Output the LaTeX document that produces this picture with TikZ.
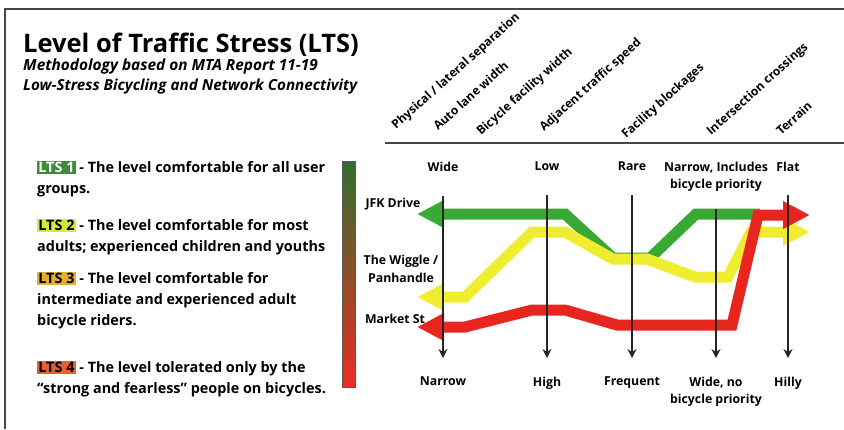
\documentclass[tikz,border=0pt]{standalone}
\usepackage{fontspec}
\setmainfont{Open Sans}
\usetikzlibrary{arrows.meta}

\definecolor{framegray}{RGB}{70,70,70}
\definecolor{jfkgreen}{RGB}{58,168,52}
\definecolor{wiggleyellow}{RGB}{240,236,48}
\definecolor{marketred}{RGB}{232,38,31}
\definecolor{bartop}{RGB}{48,112,46}
\definecolor{barmid}{RGB}{236,228,40}
\definecolor{barbottom}{RGB}{236,44,34}
\definecolor{ltsone}{RGB}{62,138,58}
\definecolor{ltstwo}{RGB}{214,232,60}
\definecolor{ltsthree}{RGB}{226,176,46}
\definecolor{ltsfour}{RGB}{226,96,52}

\newcommand{\ltstag}[3]{{\setlength{\fboxsep}{1.2pt}\colorbox{#1}{\textcolor{#2}{#3}}}}

\begin{document}
\begin{tikzpicture}[x=1pt,y=-1pt,
    every node/.style={inner sep=0pt},
    head/.style={anchor=base west, rotate=42, font=\bfseries\fontsize{12}{14}\selectfont},
    level/.style={anchor=north, align=center, font=\bfseries\fontsize{12.3}{17}\selectfont},
    street/.style={align=center, font=\bfseries\fontsize{12.3}{18}\selectfont},
    legend/.style={anchor=north west, align=left, font=\bfseries\fontsize{14.4}{21}\selectfont},
    band/.style={line width=11pt},
    axis/.style={line width=1.5pt, black!85, -{Stealth[length=9pt,width=9pt]},
      shorten <=24pt, shorten >=19pt}]
  \useasboundingbox (0,0) rectangle (844,429);
  \draw[framegray, line width=1.5pt] (844,9) -- (5,9) -- (5,429);
  \draw[framegray, line width=2pt] (385,143) -- (844,143);

  % title block
  \node[anchor=base west, font=\bfseries\fontsize{25.5}{30}\selectfont] (title) at (23,52)
    {Level of Traffic Stress (LTS)};
  \node[anchor=base west, font=\bfseries\itshape\fontsize{15.4}{18}\selectfont] (subone) at (23,70)
    {Methodology based on MTA Report 11-19};
  \node[anchor=base west, font=\bfseries\itshape\fontsize{15.2}{18}\selectfont] (subtwo) at (23,90)
    {Low-Stress Bicycling and Network Connectivity};

  % factor headings
  \node[head] (physical) at (396,130) {Physical / lateral separation};
  \node[head] (autolane) at (438,131) {Auto lane width};
  \node[head] (bikewidth) at (481,136) {Bicycle facility width};
  \node[head] (speed) at (544,132) {Adjacent traffic speed};
  \node[head] (blockage) at (626,139) {Facility blockages};
  \node[head] (crossing) at (711,136) {Intersection crossings};
  \node[head] (terrain) at (781,136) {Terrain};

  % legend
  \node[legend] (ltsa) at (37,161)
    {\ltstag{ltsone}{white}{LTS 1} - The level comfortable for all user\\groups.};
  \node[legend] (ltsb) at (37,219)
    {\ltstag{ltstwo}{black}{LTS 2} - The level comfortable for most\\adults; experienced children and youths};
  \node[legend] (ltsc) at (37,272)
    {\ltstag{ltsthree}{black}{LTS 3} - The level comfortable for\\intermediate and experienced adult\\bicycle riders.};
  \node[legend] (ltsd) at (37,361)
    {\ltstag{ltsfour}{black}{LTS 4} - The level tolerated only by the\\``strong and fearless'' people on bicycles.};

  % stress scale
  \shade[top color=bartop, middle color=barmid, bottom color=barbottom,
    draw=black!65, line width=1pt] (342,161) rectangle (355,387);

  % street names
  \node[street] (jfk) at (393,204) {JFK Drive};
  \node[street] (wiggle) at (401,269) {The Wiggle /\\Panhandle};
  \node[street] (market) at (395,319) {Market St};

  % low / high stress ends of each axis
  \node[level] (wide) at (443,162) {Wide};
  \node[level] (low) at (547,162) {Low};
  \node[level] (rare) at (632,162) {Rare};
  \node[level] (narrowpri) at (716,162) {Narrow, Includes\\bicycle priority};
  \node[level] (flat) at (788,162) {Flat};
  \node[level] (narrow) at (443,377) {Narrow};
  \node[level] (high) at (547,377) {High};
  \node[level] (frequent) at (632,377) {Frequent};
  \node[level] (widenopri) at (716,377) {Wide, no\\bicycle priority};
  \node[level] (hilly) at (788,377) {Hilly};

  % street profiles
  \draw[band, jfkgreen, -{Triangle[length=27pt,width=26pt]}]
    (760,214) -- (696,214) -- (650,258) -- (613,258) -- (565,214) -- (417,214);
  \draw[band, wiggleyellow, {Triangle[length=27pt,width=26pt]}-{Triangle[length=27pt,width=26pt]}]
    (417,297) -- (465,297) -- (532,232) -- (565,232) -- (613,259) -- (647,259)
    -- (695,277) -- (728,277) -- (751,232) -- (810,232);
  \draw[band, marketred, {Triangle[length=27pt,width=26pt]}-{Triangle[length=27pt,width=26pt]}]
    (417,327) -- (465,327) -- (532,310) -- (565,310) -- (617,325) -- (732,325)
    -- (758,215) -- (810,215);

  % axes
  \draw[axis] (wide) -- (narrow);
  \draw[axis] (low) -- (high);
  \draw[axis] (rare) -- (frequent);
  \draw[axis, shorten <=17pt] (narrowpri) -- (widenopri);
  \draw[axis, shorten <=23pt] (flat) -- (hilly);
\end{tikzpicture}
\end{document}
